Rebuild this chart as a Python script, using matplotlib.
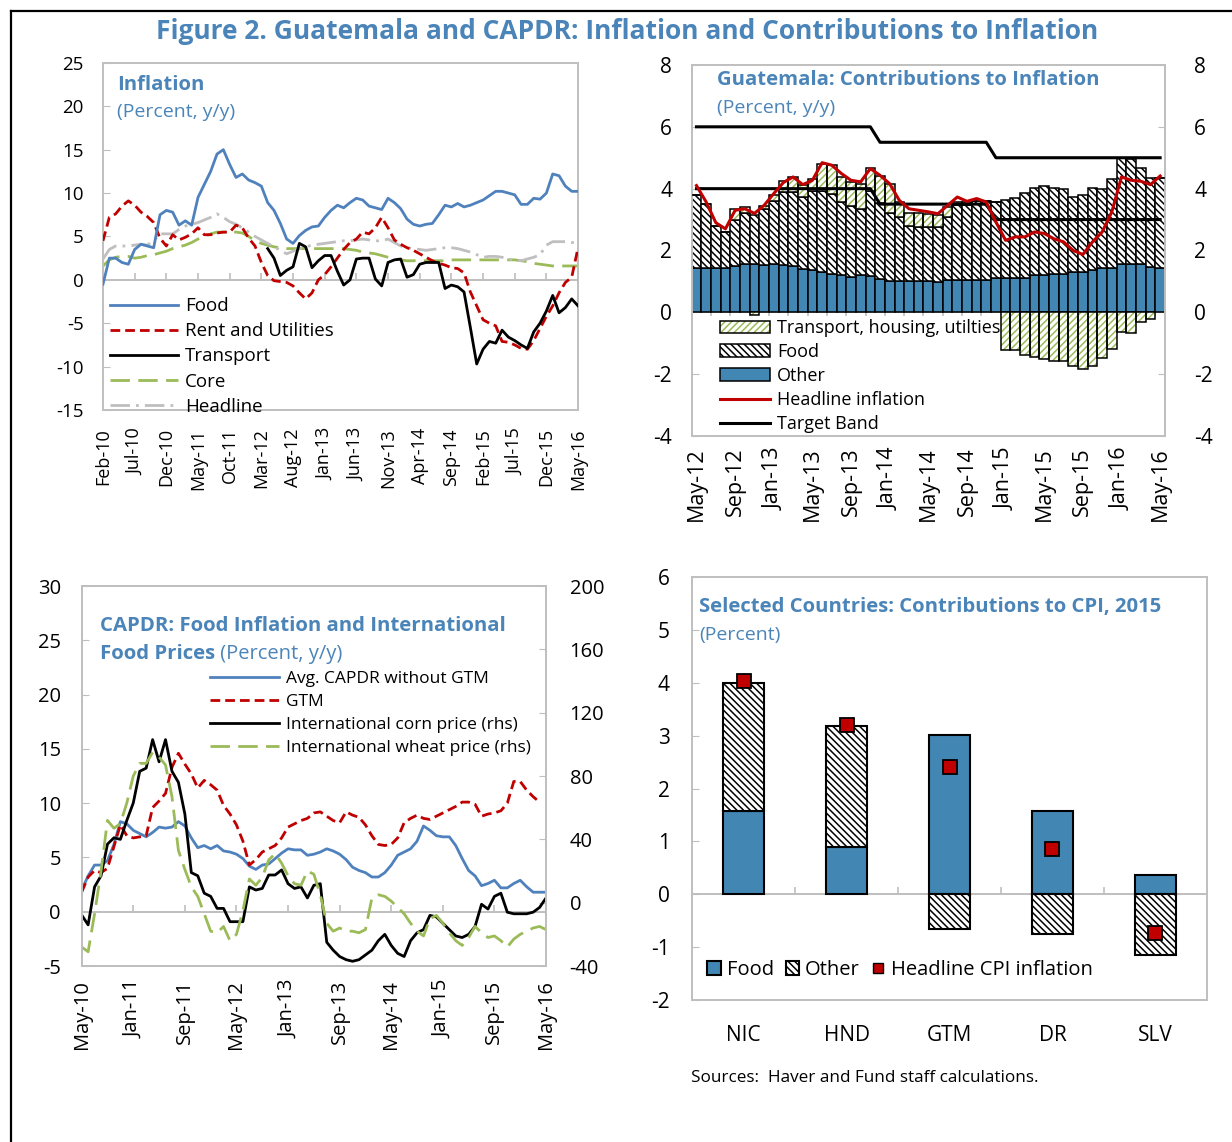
import numpy as np
import matplotlib
matplotlib.use("Agg")
import matplotlib.pyplot as plt
from matplotlib.lines import Line2D

plt.rcParams['font.family'] = ['Open Sans', 'DejaVu Sans']
plt.rcParams['hatch.linewidth'] = 1.1
plt.rcParams['axes.unicode_minus'] = False

# colours
TITLE_BLUE = '#4A84B8'
FRAME_GRAY = '#BFBFBF'
LINE_BLUE = '#4F81BD'
BAR_BLUE = '#4287B3'
RED = '#C00000'
GREEN = '#9BBB59'
LIGHT_GRAY = '#BFBFBF'
DENSE_BACK = '\\\\\\\\\\'
DENSE_FWD = '/////'

# ---- panel 1: inflation by component, Feb-10 .. May-16 (monthly, y/y)
p1_labels = ['Feb-10', 'Jul-10', 'Dec-10', 'May-11', 'Oct-11', 'Mar-12', 'Aug-12', 'Jan-13',
             'Jun-13', 'Nov-13', 'Apr-14', 'Sep-14', 'Feb-15', 'Jul-15', 'Dec-15', 'May-16']
food = [-0.5, 2.5, 2.5, 2.0, 1.8, 3.5, 4.1, 3.9, 3.7, 7.5, 8.0, 7.8, 6.3, 6.8, 6.3, 9.5,
        11.0, 12.5, 14.5, 15.0, 13.3, 11.8, 12.2, 11.5, 11.2, 10.8, 8.9, 8.0, 6.5, 4.7, 4.2,
        5.1, 5.7, 6.1, 6.2, 7.2, 8.0, 8.6, 8.3, 8.9, 9.4, 9.2, 8.5, 8.3, 8.1, 9.4, 8.9, 8.2,
        7.0, 6.4, 6.2, 6.4, 6.5, 7.5, 8.6, 8.4, 8.8, 8.4, 8.6, 8.9, 9.2, 9.7, 10.2, 10.2,
        10.0, 9.8, 8.7, 8.7, 9.4, 9.3, 10.0, 12.2, 12.0, 10.8, 10.2, 10.2]
rent = [4.5, 7.2, 7.6, 8.5, 9.1, 8.6, 7.8, 7.3, 6.6, 4.8, 3.9, 5.2, 4.6, 4.9, 5.3, 6.0, 5.2,
        5.2, 5.4, 5.5, 5.5, 6.3, 6.0, 4.8, 3.9, 2.0, 0.5, -0.1, -0.2, -0.3, -0.7, -1.5, -2.2,
        -1.5, 0.0, 0.6, 1.5, 2.5, 3.5, 4.3, 4.7, 5.5, 5.3, 6.0, 7.2, 6.0, 4.6, 4.1, 3.7, 3.4,
        3.0, 2.6, 2.2, 1.9, 1.7, 1.4, 1.3, 0.8, -1.4, -3.0, -4.6, -5.0, -5.3, -7.1, -7.2,
        -7.5, -7.9, -8.0, -7.0, -5.6, -4.2, -3.0, -1.5, -0.3, 0.3, 3.7]
transport = [np.nan] * 26 + [
        3.6, 2.5, 0.5, 1.1, 1.5, 4.2, 3.8, 1.4, 2.2, 2.8, 2.8, 1.0, -0.6, 0.0, 2.4, 2.5, 2.5,
        0.1, -0.7, 2.0, 2.3, 2.4, 0.3, 0.6, 1.8, 2.0, 2.0, 2.0, -1.0, -0.6, -0.8, -1.4, -5.5,
        -9.7, -8.0, -7.1, -7.3, -5.8, -6.6, -7.0, -7.5, -7.9, -6.0, -5.0, -3.6, -1.8, -3.8,
        -3.2, -2.2, -3.0]
core = [1.6, 2.3, 2.6, 2.7, 2.7, 2.5, 2.6, 2.8, 2.9, 3.1, 3.3, 3.6, 3.8, 4.0, 4.3, 4.7, 5.0,
        5.3, 5.5, 5.5, 5.5, 5.5, 5.4, 5.0, 4.5, 4.2, 4.0, 3.8, 3.7, 3.6, 3.6, 3.6, 3.6, 3.6,
        3.6, 3.6, 3.6, 3.6, 3.6, 3.5, 3.4, 3.2, 3.1, 3.0, 2.8, 2.6, 2.4, 2.3, 2.2, 2.2, 2.2,
        2.2, 2.2, 2.2, 2.2, 2.3, 2.3, 2.3, 2.3, 2.3, 2.3, 2.3, 2.3, 2.3, 2.3, 2.3, 2.2, 2.1,
        1.9, 1.8, 1.7, 1.6, 1.6, 1.6, 1.6, 1.6]
headline = [2.4, 3.5, 3.9, 3.9, 3.9, 4.0, 4.1, 4.0, 4.5, 5.3, 5.3, 5.3, 5.8, 6.2, 6.4, 6.6,
            6.9, 7.2, 7.6, 7.2, 6.7, 6.4, 6.0, 5.5, 5.0, 4.6, 4.2, 3.8, 3.4, 3.0, 3.3, 3.6,
            3.8, 4.0, 4.1, 4.2, 4.3, 4.4, 4.5, 4.5, 4.6, 4.7, 4.6, 4.5, 4.5, 4.7, 4.3, 3.9,
            3.7, 3.6, 3.5, 3.4, 3.5, 3.6, 3.7, 3.7, 3.6, 3.4, 3.2, 2.9, 2.6, 2.7, 2.7, 2.6,
            2.4, 2.3, 2.2, 2.4, 2.6, 2.9, 4.0, 4.4, 4.4, 4.4, 4.3, 4.3]

# ---- panel 2: Guatemala contributions to inflation, May-12 .. May-16
p2_labels = ['May-12', 'Sep-12', 'Jan-13', 'May-13', 'Sep-13', 'Jan-14', 'May-14', 'Sep-14',
             'Jan-15', 'May-15', 'Sep-15', 'Jan-16', 'May-16']
other_contrib = [1.43, 1.43, 1.43, 1.43, 1.50, 1.55, 1.55, 1.52, 1.57, 1.52, 1.50, 1.39, 1.36,
                 1.30, 1.25, 1.20, 1.14, 1.20, 1.16, 1.09, 1.00, 1.00, 1.00, 1.00, 1.00, 0.98,
                 1.03, 1.03, 1.03, 1.03, 1.06, 1.11, 1.11, 1.11, 1.11, 1.20, 1.20, 1.25, 1.25,
                 1.30, 1.30, 1.36, 1.43, 1.43, 1.55, 1.55, 1.55, 1.46, 1.43]
food_contrib = [2.35, 2.08, 1.36, 1.17, 1.50, 1.67, 1.61, 1.83, 2.02, 2.37, 2.39, 2.34, 2.55,
                2.61, 2.59, 2.37, 2.30, 2.13, 2.75, 2.43, 2.20, 2.08, 1.79, 1.76, 1.76, 1.78,
                2.05, 2.43, 2.43, 2.56, 2.53, 2.46, 2.51, 2.59, 2.75, 2.82, 2.88, 2.77, 2.75,
                2.43, 2.48, 2.66, 2.55, 2.87, 3.44, 3.42, 3.12, 2.89, 2.92]
transp_contrib = [0.0, 0.0, 0.0, 0.0, 0.35, 0.18, -0.10, 0.08, 0.21, 0.35, 0.49, 0.40, 0.39,
                  0.90, 0.94, 0.81, 0.78, 0.83, 0.76, 0.89, 0.96, 0.49, 0.43, 0.46, 0.43, 0.38,
                  0.33, 0.11, 0.11, 0.0, 0.0, 0.0, -1.23, -1.23, -1.37, -1.45, -1.50, -1.56,
                  -1.59, -1.72, -1.82, -1.72, -1.48, -1.20, -0.64, -0.66, -0.31, -0.21, 0.0]
headline_gt = [4.10, 3.57, 2.90, 2.70, 3.30, 3.35, 3.20, 3.46, 3.84, 4.20, 4.38, 4.13, 4.27,
               4.84, 4.76, 4.49, 4.27, 4.22, 4.65, 4.43, 4.16, 3.62, 3.35, 3.30, 3.25, 3.19,
               3.46, 3.73, 3.59, 3.68, 3.57, 2.92, 2.33, 2.44, 2.44, 2.60, 2.55, 2.38, 2.28,
               2.00, 1.87, 2.28, 2.60, 3.25, 4.38, 4.27, 4.24, 4.13, 4.41]
band_upper = [6.0, 6.0, 6.0, 6.0, 6.0, 6.0, 6.0, 6.0, 6.0, 6.0, 6.0, 6.0, 6.0, 6.0, 6.0, 6.0,
              6.0, 6.0, 6.0, 5.5, 5.5, 5.5, 5.5, 5.5, 5.5, 5.5, 5.5, 5.5, 5.5, 5.5, 5.5, 5.0,
              5.0, 5.0, 5.0, 5.0, 5.0, 5.0, 5.0, 5.0, 5.0, 5.0, 5.0, 5.0, 5.0, 5.0, 5.0, 5.0,
              5.0]
band_lower = [4.0, 4.0, 4.0, 4.0, 4.0, 4.0, 4.0, 4.0, 4.0, 4.0, 4.0, 4.0, 4.0, 4.0, 4.0, 4.0,
              4.0, 4.0, 4.0, 3.5, 3.5, 3.5, 3.5, 3.5, 3.5, 3.5, 3.5, 3.5, 3.5, 3.5, 3.5, 3.0,
              3.0, 3.0, 3.0, 3.0, 3.0, 3.0, 3.0, 3.0, 3.0, 3.0, 3.0, 3.0, 3.0, 3.0, 3.0, 3.0,
              3.0]

# ---- panel 3: CAPDR food inflation and international food prices, May-10 .. May-16
p3_labels = ['May-10', 'Jan-11', 'Sep-11', 'May-12', 'Jan-13', 'Sep-13', 'May-14', 'Jan-15',
             'Sep-15', 'May-16']
capdr_ex_gtm = [2.0, 3.3, 4.3, 4.3, 4.7, 6.2, 8.3, 8.1, 7.5, 7.2, 6.9, 7.3, 7.8, 7.7, 7.8, 8.3,
                7.9, 6.8, 5.9, 6.1, 5.8, 6.1, 5.6, 5.5, 5.3, 4.9, 4.2, 3.9, 4.3, 4.4, 4.9, 5.4,
                5.8, 5.7, 5.7, 5.2, 5.3, 5.5, 5.8, 5.6, 5.3, 4.8, 4.1, 3.8, 3.6, 3.2, 3.2, 3.6,
                4.3, 5.2, 5.5, 5.8, 6.5, 7.9, 7.5, 7.0, 6.9, 6.9, 6.1, 4.9, 3.8, 3.3, 2.4, 2.6,
                2.9, 2.2, 2.2, 2.6, 2.9, 2.3, 1.8, 1.8, 1.8]
gtm_food = [1.8, 3.2, 3.8, 3.6, 4.0, 6.0, 8.0, 7.0, 6.8, 6.9, 7.0, 9.6, 10.2, 10.9, 13.3, 14.6,
            13.6, 12.7, 11.4, 12.1, 11.7, 11.2, 9.8, 9.0, 8.0, 6.5, 4.3, 4.8, 5.5, 5.8, 6.1,
            6.8, 7.8, 8.1, 8.4, 8.6, 9.1, 9.2, 8.8, 8.4, 8.2, 9.2, 8.9, 8.7, 8.0, 7.0, 6.2,
            6.1, 6.2, 6.8, 8.2, 8.6, 8.9, 8.6, 8.5, 8.8, 9.1, 9.4, 9.7, 10.1, 10.1, 9.9, 8.8,
            9.0, 9.1, 9.3, 10.0, 12.0, 12.0, 11.2, 10.6, 10.1, np.nan]
corn = [-7.8, -14, 10, 17, 37, 41, 40, 52, 63, 83, 85, 103, 89, 103, 83, 76, 56, 19, 17, 6, 4,
        -3.6, -3.6, -12, -12, -12, 10, 8, 9, 17.5, 17.5, 20.7, 12, 9, 10, 3, 11, 12, -25, -30,
        -34, -36, -37, -36, -33, -30, -24, -20, -27, -32, -34, -24, -19, -17, -8, -9, -13,
        -17, -21, -22, -20, -15, -1, -4, 4, 6, -6, -7, -7, -7, -6, -3, 3]
wheat = [-28, -31, -7, 20, 52, 47, 50, 63, 80, 88, 88, 95, 92, 87, 67, 33, 21, 10, 4, -7, -18,
         -19, -15, -24, -20, -5, 15, 11, 16, 27, 31, 25, 17, 12, 11, 20, 18, 5, -13, -18, -16,
         -18, -18, -19, -17, 3, 5, 4, 1, -3, -7, -13, -18, -21, -10, -8, -13, -19, -24, -27,
         -22, -15, -19, -22, -21, -24, -28, -23, -20, -18, -16, -15, -17]

# ---- panel 4: contributions to CPI, 2015
countries = ['NIC', 'HND', 'GTM', 'DR', 'SLV']
food_cpi = [1.58, 0.90, 3.02, 1.58, 0.37]
other_cpi = [2.42, 2.28, -0.65, -0.76, -1.14]
headline_cpi = [4.03, 3.20, 2.40, 0.85, -0.73]


def frame(ax):
    for s in ax.spines.values():
        s.set_color(FRAME_GRAY)
        s.set_linewidth(1.4)


def zero_axis(ax, ticks, direction='in', length=5):
    # horizontal axis line drawn at y = 0, with its own tick marks
    sec = ax.secondary_xaxis(0, transform=ax.transData)
    sec.set_xticks(ticks)
    sec.set_xticklabels([])
    sec.tick_params(direction=direction, length=length, color=FRAME_GRAY, width=1.2)
    sec.spines['bottom'].set_color(FRAME_GRAY)
    sec.spines['bottom'].set_linewidth(1.4)
    return sec


def panel_title(ax, x, y1, y2, title, sub):
    ax.text(x, y1, title, transform=ax.transAxes, fontsize=14.6, weight='bold',
            color=TITLE_BLUE, va='center', ha='left', zorder=10)
    ax.text(x, y2, sub, transform=ax.transAxes, fontsize=14,
            color=TITLE_BLUE, va='center', ha='left', zorder=10)


fig = plt.figure(figsize=(12.32, 11.42), dpi=100)

# ================= panel 1
ax1 = fig.add_axes([0.0836, 0.6410, 0.3856, 0.3039])
x1 = np.arange(len(food))
ax1.plot(x1, food, color=LINE_BLUE, lw=2.0, label='Food', zorder=4)
ax1.plot(x1, rent, color=RED, lw=2.0, ls=(0, (3.5, 1.8)), label='Rent and Utilities', zorder=3)
ax1.plot(x1, transport, color='black', lw=2.0, label='Transport', zorder=5)
ax1.plot(x1, core, color=GREEN, lw=2.0, ls=(0, (7, 3)), label='Core', zorder=2)
ax1.plot(x1, headline, color=LIGHT_GRAY, lw=2.0, ls=(0, (7, 2.2, 1, 2.2)), label='Headline', zorder=2)
ax1.set_xlim(0, len(food) - 1)
ax1.set_ylim(-15, 25)
ax1.set_yticks(np.arange(-15, 26, 5))
ax1.set_xticks(np.arange(0, len(food), 5))
ax1.set_xticklabels(p1_labels, rotation=90)
ax1.tick_params(axis='x', length=0, labelsize=13, pad=13)
ax1.tick_params(axis='y', direction='in', length=5, color=FRAME_GRAY, labelsize=13.5, pad=14)
frame(ax1)
zero_axis(ax1, np.arange(5, len(food) - 1, 5))
ax1.legend(loc='upper left', bbox_to_anchor=(0.015, 0.325), frameon=False, fontsize=13.5,
           handlelength=3.6, handletextpad=0.4, labelspacing=0.38, borderpad=0, borderaxespad=0)
panel_title(ax1, 0.029, 0.937, 0.859, 'Inflation', '(Percent, y/y)')

# ================= panel 2
ax2 = fig.add_axes([0.5614, 0.6182, 0.3842, 0.3249])
x2 = np.arange(len(other_contrib))
other_a = np.array(other_contrib)
food_a = np.array(food_contrib)
transp_a = np.array(transp_contrib)
b_other = ax2.bar(x2, other_a, width=1.0, color=BAR_BLUE, edgecolor='black', lw=1.1, zorder=2)
b_food = ax2.bar(x2, food_a, bottom=other_a, width=1.0, color='white', edgecolor='black',
                 hatch=DENSE_BACK, lw=1.1, zorder=2)
t_bottom = np.where(transp_a >= 0, other_a + food_a, 0)
b_tr_fill = ax2.bar(x2, transp_a, bottom=t_bottom, width=1.0, color='white', edgecolor=GREEN,
                    hatch=DENSE_FWD, lw=0, zorder=2)
b_tr_edge = ax2.bar(x2, transp_a, bottom=t_bottom, width=1.0, fill=False, edgecolor='black',
                    lw=1.1, zorder=3)
l_band, = ax2.plot(x2, band_upper, color='black', lw=2.2, zorder=4)
ax2.plot(x2, band_lower, color='black', lw=2.2, zorder=4)
l_head, = ax2.plot(x2, headline_gt, color=RED, lw=2.2, zorder=5)
ax2.set_xlim(-0.5, len(x2) - 0.5)
ax2.set_ylim(-4, 8)
ax2.set_yticks(np.arange(-4, 9, 2))
ax2.set_xticks(np.arange(0, len(x2), 4))
ax2.set_xticklabels(p2_labels, rotation=90)
ax2.tick_params(axis='x', length=0, labelsize=15.5, pad=8)
ax2.tick_params(axis='y', direction='in', length=5, color=FRAME_GRAY, labelsize=15, pad=14)
ax2r = ax2.secondary_yaxis('right')
ax2r.set_yticks(np.arange(-4, 9, 2))
ax2r.tick_params(direction='in', length=5, color=FRAME_GRAY, labelsize=15, pad=21)
ax2r.spines['right'].set_color(FRAME_GRAY)
ax2r.spines['right'].set_linewidth(1.4)
frame(ax2)
zero_axis(ax2, np.arange(1.5, len(x2) - 1, 2), direction='out', length=3)
ax2.legend([(b_tr_fill, b_tr_edge), b_food, b_other, l_head, l_band],
           ['Transport, housing, utilties', 'Food', 'Other', 'Headline inflation', 'Target Band'],
           loc='upper left', bbox_to_anchor=(0.059, 0.315), frameon=False, fontsize=13,
           handlelength=2.8, handleheight=0.7, handletextpad=0.4, labelspacing=0.33,
           borderpad=0, borderaxespad=0).set_zorder(10)
panel_title(ax2, 0.053, 0.96, 0.884, 'Guatemala: Contributions to Inflation', '(Percent, y/y)')

# ================= panel 3
ax3 = fig.add_axes([0.0663, 0.1541, 0.3769, 0.3327])
ax3r = ax3.twinx()
x3 = np.arange(len(capdr_ex_gtm))
ax3.plot(x3, capdr_ex_gtm, color=LINE_BLUE, lw=2.0, label='Avg. CAPDR without GTM')
ax3.plot(x3, gtm_food, color=RED, lw=2.0, ls=(0, (3.5, 1.8)), label='GTM')
ax3r.plot(x3, corn, color='black', lw=2.0, label='International corn price (rhs)')
ax3r.plot(x3, wheat, color=GREEN, lw=2.0, ls=(0, (7, 3)), label='International wheat price (rhs)')
ax3.set_xlim(0, len(x3) - 1)
ax3.set_ylim(-5, 30)
ax3r.set_ylim(-40, 200)
ax3.set_yticks(np.arange(-5, 31, 5))
ax3r.set_yticks(np.arange(-40, 201, 40))
ax3.set_xticks(np.arange(0, len(x3), 8))
ax3.set_xticklabels(p3_labels, rotation=90)
ax3.tick_params(axis='x', length=0, labelsize=14.5, pad=10)
ax3.tick_params(axis='y', direction='in', length=5, color=FRAME_GRAY, labelsize=14.5, pad=15)
ax3r.tick_params(axis='y', direction='in', length=5, color=FRAME_GRAY, labelsize=14.5, pad=17)
frame(ax3)
frame(ax3r)
zero_axis(ax3, np.arange(8, len(x3) - 1, 8))
h1, lab1 = ax3.get_legend_handles_labels()
h2, lab2 = ax3r.get_legend_handles_labels()
ax3r.legend(h1 + h2, lab1 + lab2, loc='upper left', bbox_to_anchor=(0.276, 0.776),
            frameon=False, fontsize=12.5, handlelength=4.0, handletextpad=0.4,
            labelspacing=0.38, borderpad=0, borderaxespad=0)
ax3r.text(0.039, 0.895, 'CAPDR: Food Inflation and International', transform=ax3r.transAxes,
          fontsize=14.7, weight='bold', color=TITLE_BLUE, va='center')
t_fp = ax3r.text(0.039, 0.821, 'Food Prices', transform=ax3r.transAxes,
                 fontsize=14.7, weight='bold', color=TITLE_BLUE, va='center')
ax3r.annotate(' (Percent, y/y)', xy=(1, 0), xycoords=t_fp, va='bottom', ha='left',
              fontsize=14.5, color=TITLE_BLUE)

# ================= panel 4
ax4 = fig.add_axes([0.5617, 0.1243, 0.418, 0.3704])
x4 = np.arange(len(countries))
food_c = np.array(food_cpi)
other_c = np.array(other_cpi)
bf = ax4.bar(x4, food_c, width=0.39, color=BAR_BLUE, edgecolor='black', lw=1.5, zorder=2)
bo = ax4.bar(x4, other_c, bottom=np.where(other_c >= 0, food_c, 0), width=0.39, color='white',
             edgecolor='black', hatch=DENSE_BACK, lw=1.5, zorder=2)
ax4.plot(x4, headline_cpi, ls='none', marker='s', ms=10, mfc=RED, mec='black', mew=1.3, zorder=4)
ax4.set_xlim(-0.5, len(x4) - 0.5)
ax4.set_ylim(-2, 6)
ax4.set_yticks(np.arange(-2, 7, 1))
ax4.set_xticks(x4)
ax4.set_xticklabels(countries)
ax4.tick_params(axis='x', length=0, labelsize=15, pad=18)
ax4.tick_params(axis='y', direction='in', length=5, color=FRAME_GRAY, labelsize=15, pad=16)
frame(ax4)
zero_axis(ax4, x4[:-1] + 0.5)
head_proxy = Line2D([], [], ls='none', marker='s', ms=7, mfc=RED, mec='black', mew=1.0)
ax4.legend([bf, bo, head_proxy], ['Food', 'Other', 'Headline CPI inflation'], ncol=3,
           loc='center left', bbox_to_anchor=(0.03, 0.071), frameon=False, fontsize=14.5,
           handlelength=0.65, handleheight=0.65, handletextpad=0.3, columnspacing=0.6,
           borderpad=0, borderaxespad=0)
panel_title(ax4, 0.014, 0.929, 0.863, 'Selected Countries: Contributions to CPI, 2015', '(Percent)')

# ================= figure texts and border
fig.text(0.509, 0.972, 'Figure 2. Guatemala and CAPDR: Inflation and Contributions to Inflation',
         ha='center', va='center', fontsize=19, weight='bold', color=TITLE_BLUE)
fig.text(0.561, 0.056, 'Sources:  Haver and Fund staff calculations.', fontsize=12.3, va='center')
fig.add_artist(Line2D([0.0089, 0.0089], [0, 0.9906], transform=fig.transFigure, color='black', lw=1.6))
fig.add_artist(Line2D([0.0089, 1.0], [0.9906, 0.9906], transform=fig.transFigure, color='black', lw=1.6))

fig.savefig('out.png', dpi=100)
